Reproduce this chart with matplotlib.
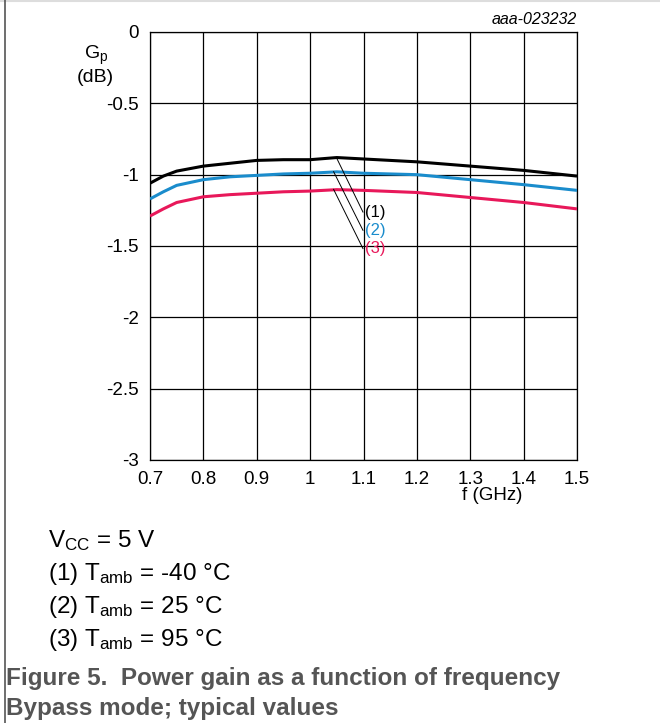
import matplotlib

matplotlib.use("Agg")
import matplotlib.pyplot as plt
from matplotlib.lines import Line2D

plt.rcParams["font.family"] = ["Liberation Sans", "DejaVu Sans"]
plt.rcParams["mathtext.fontset"] = "custom"
plt.rcParams["mathtext.rm"] = "Liberation Sans"
plt.rcParams["mathtext.it"] = "Liberation Sans:italic"

# values
freq_ghz = [0.70, 0.725, 0.75, 0.80, 0.85, 0.90, 0.95, 1.00, 1.05, 1.10, 1.20, 1.30, 1.40, 1.50]
gain_m40 = [-1.06, -1.01, -0.975, -0.94, -0.92, -0.90, -0.895, -0.895, -0.88, -0.89, -0.91, -0.94, -0.97, -1.01]
gain_25 = [-1.17, -1.12, -1.075, -1.035, -1.015, -1.005, -0.995, -0.99, -0.98, -0.99, -1.00, -1.035, -1.07, -1.11]
gain_95 = [-1.29, -1.24, -1.195, -1.155, -1.14, -1.13, -1.12, -1.115, -1.105, -1.11, -1.125, -1.16, -1.195, -1.24]

x_ticks = [0.7, 0.8, 0.9, 1.0, 1.1, 1.2, 1.3, 1.4, 1.5]
x_labels = ["0.7", "0.8", "0.9", "1", "1.1", "1.2", "1.3", "1.4", "1.5"]
y_ticks = [0, -0.5, -1, -1.5, -2, -2.5, -3]
y_labels = ["0", "-0.5", "-1", "-1.5", "-2", "-2.5", "-3"]

series_labels = ["(1)", "(2)", "(3)"]
series_colors = ["#000000", "#1a8ccc", "#e8185a"]
# leader line start (on curve) and end (at label)
leader_start = [(1.050, -0.886), (1.044, -0.979), (1.044, -1.103)]
leader_end = [(1.099, -1.262), (1.099, -1.390), (1.099, -1.518)]

fig = plt.figure(figsize=(6.6, 7.23), dpi=100)
ax = fig.add_axes([150 / 660, 1 - 460 / 723, 427 / 660, 428 / 723])

for g, c in zip([gain_m40, gain_25, gain_95], series_colors):
    ax.plot(freq_ghz, g, color=c, lw=2.2, solid_capstyle="butt", zorder=3)

for (x0, y0), (x1, y1), lab, c in zip(leader_start, leader_end, series_labels, series_colors):
    ax.plot([x0, x1], [y0, y1], color="black", lw=0.7, zorder=4)
    ax.text(x1 + 0.004, y1, lab, color=c, fontsize=12, ha="left", va="center", zorder=5)

ax.set_xlim(0.7, 1.5)
ax.set_ylim(-3, 0)
ax.set_xticks(x_ticks)
ax.set_xticklabels(x_labels, fontsize=13.5)
ax.set_yticks(y_ticks)
ax.set_yticklabels(y_labels, fontsize=13.5)
ax.tick_params(axis="x", length=0, pad=8)
ax.tick_params(axis="y", length=0, pad=8)
ax.grid(True, color="black", lw=0.9)
for s in ax.spines.values():
    s.set_linewidth(0.9)

ax.text(1.342, -3.25, "f (GHz)", fontsize=13.5, ha="center", va="center")
fig.text(96 / 660, 1 - 55 / 723, r"G$_\mathrm{p}$", fontsize=14, ha="center", va="center")
fig.text(95 / 660, 1 - 77 / 723, "(dB)", fontsize=14, ha="center", va="center")
fig.text(577 / 660, 1 - 20 / 723, "aaa-023232", fontsize=11.5, style="italic", ha="right", va="center")

notes = [
    r"V$_\mathrm{CC}$ = 5 V",
    r"(1) T$_\mathrm{amb}$ = -40 °C",
    r"(2) T$_\mathrm{amb}$ = 25 °C",
    r"(3) T$_\mathrm{amb}$ = 95 °C",
]
for i, t in enumerate(notes):
    fig.text(48 / 660, 1 - (541 + 33 * i) / 723, t, fontsize=17.5, ha="left", va="center")

fig.text(6 / 660, 1 - 678 / 723, "Figure 5.  Power gain as a function of frequency",
         fontsize=17.5, fontweight="bold", color="#555555", ha="left", va="center")
fig.text(6 / 660, 1 - 708 / 723, "Bypass mode; typical values",
         fontsize=17.5, fontweight="bold", color="#555555", ha="left", va="center")

# page frame: light top rule, darker left rule
fig.add_artist(Line2D([0, 1], [0.999, 0.999], transform=fig.transFigure, color="#dddddd", lw=1.5))
fig.add_artist(Line2D([5 / 660, 5 / 660], [0, 1], transform=fig.transFigure, color="#555555", lw=1.2))

fig.savefig("out.png", dpi=100)
